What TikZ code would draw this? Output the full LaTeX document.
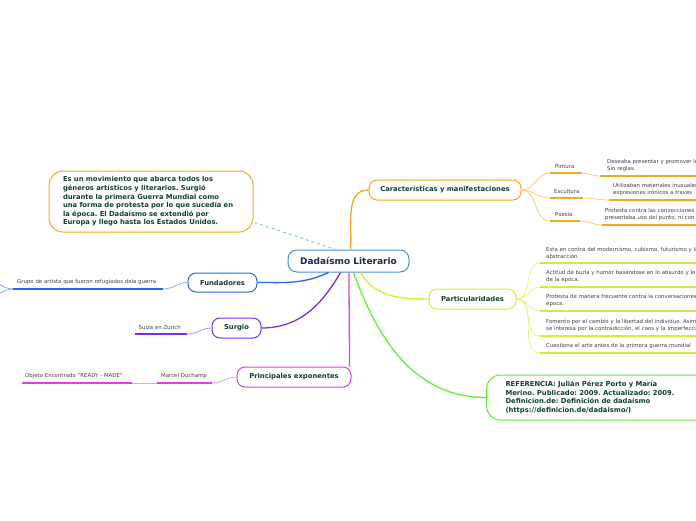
\documentclass[tikz,border=0pt]{standalone}
\usepackage{fontspec}
\setmainfont{DejaVu Sans}
\usetikzlibrary{calc}
\frenchspacing
\definecolor{corange}{HTML}{F5A623}
\definecolor{corangeL}{HTML}{FBCB7E}
\definecolor{clime}{HTML}{CCF03A}
\definecolor{climeL}{HTML}{E2F57A}
\definecolor{cgreen}{HTML}{62EE3C}
\definecolor{cblue}{HTML}{2D62E6}
\definecolor{cblueL}{HTML}{8FAAF2}
\definecolor{cpurple}{HTML}{7B2CF2}
\definecolor{cpurpleL}{HTML}{B592F6}
\definecolor{cmag}{HTML}{E23DE8}
\definecolor{cmagL}{HTML}{F09AF2}
\definecolor{ccentral}{HTML}{4A8FD0}
\definecolor{cdash}{HTML}{8DB8E6}
\definecolor{ctext}{HTML}{123F33}
\definecolor{cnavy}{HTML}{1B2A4E}
\definecolor{cleaf}{HTML}{404040}
\begin{document}
\begin{tikzpicture}[x=1pt,y=-1pt,
  topic/.style={draw, rounded corners=8pt, fill=white, line width=1pt, text=ctext,
    font=\fontsize{6.8}{8}\selectfont\bfseries, inner sep=0pt, minimum height=20pt},
  bigbox/.style={draw, rounded corners=14pt, fill=white, line width=1pt, text=ctext,
    font=\fontsize{6.8}{8.6}\selectfont\bfseries, align=left, inner ysep=0pt},
  leaf/.style={anchor=south west, inner ysep=4.2pt, align=left,
    text=cleaf, font=\fontsize{5.4}{7}\selectfont},
  uline/.style={line width=1.8pt},
  main/.style={line width=1.3pt},
  sub/.style={line width=0.8pt}
]
\useasboundingbox (0,0) rectangle (696,520);

% central
\node[draw=ccentral, line width=1pt, rounded corners=9pt, fill=white, text=cnavy,
  font=\fontsize{9}{10}\selectfont\bfseries, minimum width=121pt, minimum height=22pt,
  inner sep=0pt] (central) at (348.5,261) {Dadaísmo Literario};

% description
\node[bigbox, draw=corange, text width=176pt, inner xsep=14pt, minimum height=61pt]
  (desc) at (151,201.5) {Es un movimiento que abarca todos los\\géneros artísticos y literarios. Surgió\\durante la primera Guerra Mundial como\\una forma de protesta por lo que sucedía en\\la época. El Dadaísmo se extendió por\\Europa y llego hasta los Estados Unidos.};
\draw[cdash, dashed, line width=0.8pt] ($(desc.east)+(1,21)$) -- ($(central.north)+(-13,0)$);

% topics
\node[topic, draw=corange, minimum width=152pt] (caract) at (445,190) {Características y manifestaciones};
\node[topic, draw=clime, minimum width=87pt] (partic) at (472.5,299) {Particularidades};
\node[bigbox, draw=cgreen, text width=200pt, inner xsep=19pt, minimum height=45pt, anchor=west]
  (ref) at (486,397.5) {REFERENCIA: Julián Pérez Porto y María\\Merino. Publicado: 2009. Actualizado: 2009.\\Definicion.de: Definición de dadaísmo\\(https://definicion.de/dadaismo/)};
\node[topic, draw=cblue, minimum width=69pt, minimum height=19pt] (fund) at (222.5,282.5) {Fundadores};
\node[topic, draw=cpurple, minimum width=49pt] (surg) at (236.5,328) {Surgio};
\node[topic, draw=cmag, minimum width=114pt] (princ) at (294,377) {Principales exponentes};

% main connectors
\draw[main, corange] ($(central.north)+(2,0)$) to[out=85,in=180] (caract.west);
\draw[main, clime] ($(central.south)+(12,0)$) to[out=-60,in=180] (partic.west);
\draw[main, cgreen] ($(central.south)+(5,0)$) to[out=-70,in=180] (ref.west);
\draw[main, cmag] ($(central.south)+(0.5,0)$) to[out=-90,in=90] ($(princ.north east)+(-2,0)$);
\draw[main, cpurple] ($(central.south)+(-8,0)$) to[out=-120,in=0] (surg.east);
\draw[main, cblue] ($(central.south)+(-20,0)$) to[out=-155,in=0] (fund.east);

% Caracteristicas leaves
\node[leaf, inner xsep=5pt, text width=22pt] (pint) at (550,173) {Pintura};
\node[leaf, inner xsep=7pt, text width=200pt] (pintL) at (600,176) {Deseaba presentar y promover lo\\Sin reglas.};
\node[leaf, inner xsep=4pt, text width=25pt] (escu) at (550,198) {Escultura};
\node[leaf, inner xsep=4pt, text width=200pt] (escuL) at (609,200) {Utilizaban materiales inusuales\\expresiones irónicos a través};
\node[leaf, inner xsep=5pt, text width=20pt] (poes) at (550,221) {Poesía};
\node[leaf, inner xsep=3pt, text width=200pt] (poesL) at (602,225) {Protesta contra las convecciones\\presentaba uso del punto, ni con};
\foreach \n in {pint,pintL,escu,escuL,poes,poesL}
  \draw[uline, corange] (\n.south west) -- (\n.south east);
\foreach \n in {pint,escu,poes}
  \draw[sub, corangeL] (caract.east) to[out=0,in=180] (\n.south west);
\draw[sub, corangeL] (pint.south east) to[out=0,in=180] (pintL.south west);
\draw[sub, corangeL] (escu.south east) to[out=0,in=180] (escuL.south west);
\draw[sub, corangeL] (poes.south east) to[out=0,in=180] (poesL.south west);

% Particularidades leaves
\node[leaf, inner xsep=6pt, text width=200pt] (p1) at (540,263) {Esta en contra del modernismo, cubismo, futurismo y la\\abstracción.};
\node[leaf, inner xsep=6pt, text width=200pt] (p2) at (540,287) {Actitud de burla y humor basándose en lo absurdo y lo\\de la época.};
\node[leaf, inner xsep=6pt, text width=200pt] (p3) at (540,311) {Protesta de manera frecuente contra la conversaciones\\época.};
\node[leaf, inner xsep=6pt, text width=200pt] (p4) at (540,336) {Fomento por el cambio y la libertad del individuo. Asimismo\\se interesa por la contradicción, el caos y la imperfección};
\node[leaf, inner xsep=6pt, text width=200pt] (p5) at (540,353) {Cuestiona el arte antes de la primera guerra mundial};
\foreach \n in {p1,p2,p3,p4,p5}{
  \draw[uline, clime] (\n.south west) -- (\n.south east);
  \draw[sub, climeL] (partic.east) to[out=0,in=180] (\n.south west);
}

% Fundadores leaf
\node[leaf, inner xsep=4pt, text width=142pt] (fundL) at (13,289) {Grupo de artista que fueron refugiados dela guerra};
\draw[uline, cblue] (fundL.south west) -- (fundL.south east);
\draw[sub, cblueL] (fund.west) to[out=180,in=0] (fundL.south east);
\coordinate (offA) at (-12,281);
\coordinate (offB) at (-12,297);
\draw[sub, cblueL] (fundL.south west) to[out=180,in=0] (offA);
\draw[sub, cblueL] (fundL.south west) to[out=180,in=0] (offB);

% Surgio leaf
\node[leaf, inner xsep=3.5pt, text width=45pt] (surgL) at (135,334) {Suiza en Zurich};
\draw[uline, cpurple] (surgL.south west) -- (surgL.south east);
\draw[sub, cpurpleL] (surg.west) to[out=180,in=0] (surgL.south east);

% Principales leaves
\node[leaf, inner xsep=4pt, text width=47pt] (marcel) at (157,383) {Marcel Duchamp};
\node[leaf, inner xsep=3pt, text width=104pt] (objeto) at (22,383) {Objeto Encontrado "READY - MADE".};
\draw[uline, cmag] (marcel.south west) -- (marcel.south east);
\draw[uline, cmag] (objeto.south west) -- (objeto.south east);
\draw[sub, cmagL] (princ.west) to[out=180,in=0] (marcel.south east);
\draw[sub, cmagL] (marcel.south west) -- (objeto.south east);
\end{tikzpicture}
\end{document}
